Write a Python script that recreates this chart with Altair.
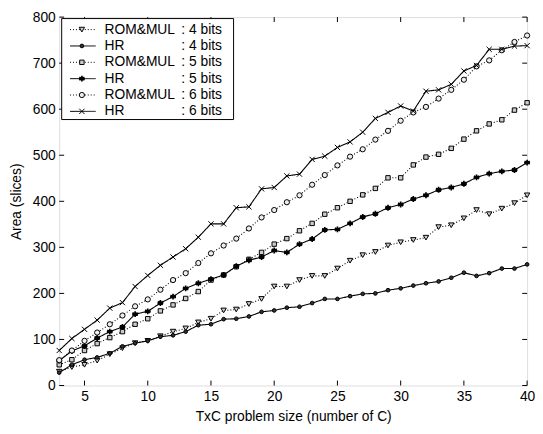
import altair as alt
import pandas as pd

C = list(range(3, 41))

rom4 = [30, 40, 45, 54, 68, 81, 92, 97, 107, 117, 124, 137, 145, 163, 165, 177, 188, 215, 215,
        229, 238, 238, 254, 271, 283, 290, 304, 311, 316, 321, 344, 348, 363, 381, 372, 384, 396, 413]
hr4 = [28, 45, 56, 61, 70, 85, 92, 97, 106, 109, 117, 131, 133, 144, 145, 150, 160, 163, 169,
       171, 179, 188, 188, 194, 199, 200, 207, 211, 217, 222, 226, 234, 245, 238, 244, 254, 254, 263]
rom5 = [45, 56, 76, 91, 104, 117, 133, 145, 162, 175, 189, 204, 229, 240, 258, 274, 289, 307, 319,
        336, 352, 372, 386, 400, 414, 428, 451, 451, 479, 496, 502, 515, 535, 553, 568, 577, 598, 614]
hr5 = [54, 75, 86, 103, 117, 127, 155, 161, 179, 193, 211, 222, 231, 240, 259, 272, 279, 293, 289,
       307, 318, 338, 339, 352, 366, 373, 386, 393, 405, 413, 425, 430, 438, 452, 460, 465, 468, 484]
rom6 = [55, 76, 97, 115, 133, 152, 172, 187, 208, 229, 244, 266, 287, 304, 319, 341, 365, 381, 398,
        413, 436, 457, 478, 497, 513, 534, 553, 575, 593, 605, 623, 642, 664, 693, 706, 728, 746, 760]
hr6 = [76, 102, 122, 142, 168, 180, 215, 239, 261, 279, 297, 322, 351, 351, 386, 388, 427, 430, 455,
       459, 491, 498, 517, 529, 550, 580, 593, 607, 596, 639, 642, 654, 683, 695, 730, 730, 737, 738]

series_names = ["ROM&MUL 4", "HR 4", "ROM&MUL 5", "HR 5", "ROM&MUL 6", "HR 6"]
legend_names = ["ROM&MUL", "HR", "ROM&MUL", "HR", "ROM&MUL", "HR"]
legend_bits = [": 4 bits", ": 4 bits", ": 5 bits", ": 5 bits", ": 6 bits", ": 6 bits"]
all_values = [rom4, hr4, rom5, hr5, rom6, hr6]

x_ticks = [5, 10, 15, 20, 25, 30, 35, 40]
y_ticks = [0, 100, 200, 300, 400, 500, 600, 700, 800]

W, H = 475, 374
FONT = "Liberation Sans"
FS = 14

ASTER = "M0,-1L0,1M-0.87,-0.5L0.87,0.5M-0.87,0.5L0.87,-0.5M-1,0L1,0"
CROSS = "M-1,-1L1,1M-1,1L1,-1"
styles = [
    dict(dash=[1, 2], shape="triangle-down", fill="#cccccc", size=30, sw=1),
    dict(dash=[1, 0], shape="circle", fill="#333333", size=14, sw=1),
    dict(dash=[1, 2], shape="square", fill="#cccccc", size=20, sw=1),
    dict(dash=[1, 0], shape=ASTER, fill="black", size=36, sw=1.7),
    dict(dash=[1, 2], shape="circle", fill="#eeeeee", size=28, sw=1),
    dict(dash=[1, 0], shape=CROSS, fill="black", size=28, sw=1),
]

xs = alt.Scale(domain=[3, 40], nice=False, zero=False)
ys = alt.Scale(domain=[0, 800], nice=False)

common_axis = dict(tickSize=0, grid=False, domain=False,
                   labelFont=FONT, titleFont=FONT, labelFontSize=FS, titleFontSize=FS,
                   labelColor="black", titleColor="black", titleFontWeight="normal")
x_axis = alt.Axis(values=x_ticks, title="TxC problem size (number of C)",
                  labelPadding=4, titlePadding=7, labelFlush=False, **common_axis)
y_axis = alt.Axis(values=y_ticks, title="Area (slices)",
                  labelPadding=4, titlePadding=9, **common_axis)

layers = []
for i, (name, vals, st) in enumerate(zip(series_names, all_values, styles)):
    d = pd.DataFrame({"C": C, "area": vals})
    if i == 0:
        xe = alt.X("C:Q", scale=xs, axis=x_axis)
        ye = alt.Y("area:Q", scale=ys, axis=y_axis)
    else:
        xe = alt.X("C:Q", scale=xs)
        ye = alt.Y("area:Q", scale=ys)
    base = alt.Chart(d).encode(x=xe, y=ye)
    layers.append(base.mark_line(color="black", strokeWidth=1.1, strokeDash=st["dash"]))
    layers.append(base.mark_point(shape=st["shape"], fill=st["fill"], filled=False,
                                  stroke="black", strokeWidth=st["sw"], opacity=1, size=st["size"]))

# inward ticks
xt = pd.DataFrame({"t": x_ticks})
yt = pd.DataFrame({"t": y_ticks})
layers += [
    alt.Chart(xt).mark_rule(color="black").encode(
        x=alt.X("t:Q", scale=xs), y=alt.value(H), y2=alt.value(H - 5)),
    alt.Chart(xt).mark_rule(color="black").encode(
        x=alt.X("t:Q", scale=xs), y=alt.value(0), y2=alt.value(5)),
    alt.Chart(yt).mark_rule(color="black").encode(
        y=alt.Y("t:Q", scale=ys), x=alt.value(0), x2=alt.value(5)),
    alt.Chart(yt).mark_rule(color="black").encode(
        y=alt.Y("t:Q", scale=ys), x=alt.value(W), x2=alt.value(W - 5)),
]

# legend
ROW0, ROWSTEP = 12.7, 16.6
layers.append(alt.Chart(pd.DataFrame({"a": [0]})).mark_rect(
    fill="white", stroke="black", strokeWidth=1).encode(
    x=alt.value(2.5), x2=alt.value(177), y=alt.value(1.5), y2=alt.value(104)))
for i, (nm, bt, st) in enumerate(zip(legend_names, legend_bits, styles)):
    ld = pd.DataFrame({"ly": [ROW0 + i * ROWSTEP], "name": [nm], "bits": [bt]})
    lb = alt.Chart(ld).encode(y=alt.Y("ly:Q", scale=None))
    layers.append(lb.mark_rule(color="black", strokeWidth=1, strokeDash=st["dash"]).encode(
        x=alt.value(11), x2=alt.value(37)))
    layers.append(lb.mark_point(shape=st["shape"], fill=st["fill"], filled=False, stroke="black",
                                strokeWidth=st["sw"], opacity=1, size=st["size"]).encode(x=alt.value(23)))
    layers.append(lb.mark_text(align="left", baseline="middle", font=FONT, fontSize=FS,
                               color="black").encode(x=alt.value(46), text="name:N"))
    layers.append(lb.mark_text(align="left", baseline="middle", font=FONT, fontSize=FS,
                               color="black").encode(x=alt.value(124), text="bits:N"))

chart = alt.layer(*layers).properties(
    width=W, height=H,
    autosize=alt.AutoSizeParams(type="none"),
    padding={"left": 52, "top": 6, "right": 8, "bottom": 46},
).configure_view(stroke="black", strokeWidth=1.2).configure(background="white")

chart.save("out.html", embed_options={"renderer": "svg", "actions": False})
